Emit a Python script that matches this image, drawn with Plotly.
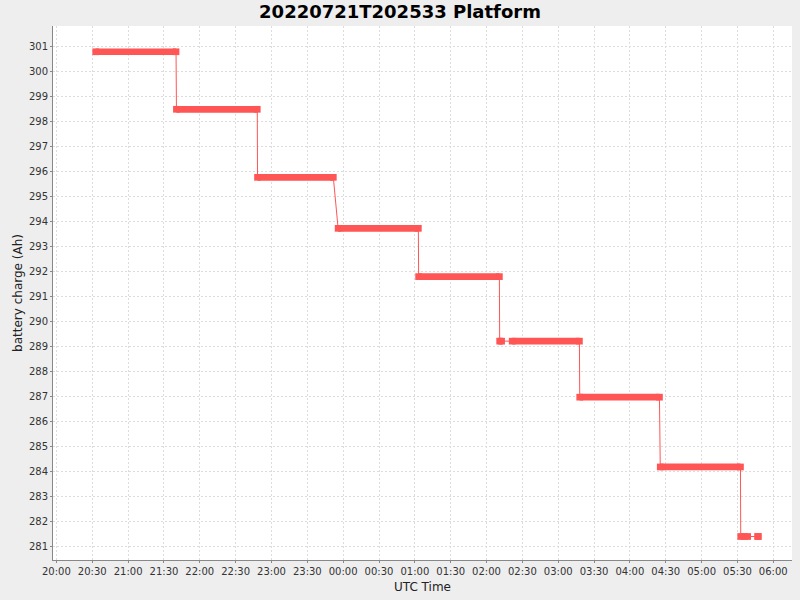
import plotly.graph_objects as go

# Plateaus of battery charge (first sample time, last sample time, value in Ah)
seg_start = ["2022-07-21 20:32:54", "2022-07-21 21:40:28", "2022-07-21 22:48:20",
             "2022-07-21 23:55:47", "2022-07-22 01:03:10", "2022-07-22 02:11:00",
             "2022-07-22 02:21:29", "2022-07-22 03:18:00", "2022-07-22 04:25:24",
             "2022-07-22 05:32:45", "2022-07-22 05:46:50"]
seg_end = ["2022-07-21 21:40:08", "2022-07-21 22:48:07", "2022-07-21 23:51:46",
           "2022-07-22 01:02:56", "2022-07-22 02:10:45", "2022-07-22 02:12:36",
           "2022-07-22 03:17:44", "2022-07-22 04:24:43", "2022-07-22 05:32:32",
           "2022-07-22 05:38:34", "2022-07-22 05:47:35"]
seg_value = [300.80, 298.50, 295.78, 293.74, 291.81, 289.23, 289.23,
             286.99, 284.20, 281.42, 281.42]

title_text = "20220721T202533 Platform"
x_title = "UTC Time"
y_title = "battery charge (Ah)"

RED = "#FF5555"
FONT = "DejaVu Sans"
GRID = "#DCDCDC"

fig = go.Figure()

# thin connecting line through all plateau end points
conn_x, conn_y = [], []
for s, e, v in zip(seg_start, seg_end, seg_value):
    conn_x += [s, e]
    conn_y += [v, v]
fig.add_trace(go.Scatter(x=conn_x, y=conn_y, mode="lines",
                         line=dict(color=RED, width=1), hoverinfo="skip",
                         showlegend=False))

# thick plateaus
for s, e, v in zip(seg_start, seg_end, seg_value):
    fig.add_trace(go.Scatter(x=[s, e], y=[v, v], mode="lines+markers",
                             line=dict(color=RED, width=6.7),
                             marker=dict(symbol="square", size=6.7, color=RED,
                                         line=dict(width=0)),
                             showlegend=False))

fig.update_layout(
    width=800, height=600,
    paper_bgcolor="#EEEEEE", plot_bgcolor="white",
    margin=dict(l=53, r=8, t=26, b=40),
    font=dict(family=FONT, size=10, color="#444444"),
    title=dict(text=title_text, x=0.5, xanchor="center",
               y=1 - 12 / 600, yref="container", yanchor="middle",
               font=dict(family=FONT, size=18, color="#000000", weight="bold")),
    showlegend=False,
)

fig.update_xaxes(
    type="date",
    range=["2022-07-21 19:57:09", "2022-07-22 06:15:40"],
    tickformat="%H:%M", dtick=30 * 60 * 1000, tick0="2022-07-21 20:00:00",
    showgrid=True, gridcolor=GRID, griddash="2px,2px", gridwidth=1,
    showline=True, linecolor="#888888", linewidth=1, mirror=False,
    ticks="outside", ticklen=2, tickcolor="#888888",
    tickfont=dict(family=FONT, size=10, color="#333333"),
    title=dict(text=x_title, standoff=6,
               font=dict(family=FONT, size=12, color="#222222")),
    zeroline=False,
)
fig.update_yaxes(
    range=[280.48, 301.83], dtick=1, tick0=281,
    showgrid=True, gridcolor=GRID, griddash="2px,2px", gridwidth=1,
    showline=True, linecolor="#888888", linewidth=1, mirror=False,
    ticks="outside", ticklen=2, tickcolor="#888888",
    tickfont=dict(family=FONT, size=10, color="#333333"),
    title=dict(text=y_title, standoff=3,
               font=dict(family=FONT, size=12, color="#222222")),
    zeroline=False,
)

fig.write_html(
    "out.html",
    config={"displayModeBar": False},
    post_script="document.body.style.margin='0';"
                "document.body.style.background='#EEEEEE';",
)
